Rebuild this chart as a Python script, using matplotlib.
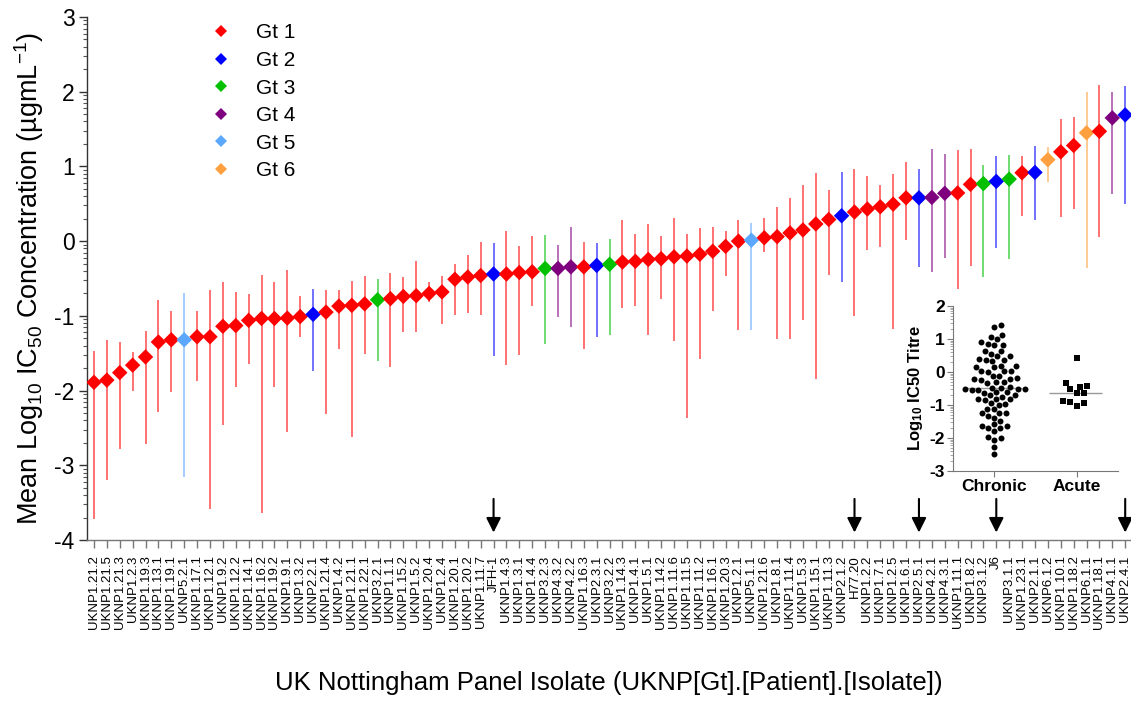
import numpy as np
import matplotlib
matplotlib.use("Agg")
import matplotlib.pyplot as plt
from matplotlib.lines import Line2D
from matplotlib.ticker import FixedLocator

plt.rcParams['font.family'] = ['Liberation Sans', 'DejaVu Sans']
plt.rcParams['mathtext.fontset'] = 'custom'
plt.rcParams['mathtext.rm'] = 'Liberation Sans'
plt.rcParams['mathtext.it'] = 'Liberation Sans:italic'
plt.rcParams['mathtext.bf'] = 'Liberation Sans:bold'

# ---------------- data ----------------
isolates = [
    "UKNP1.21.2", "UKNP1.21.5", "UKNP1.21.3", "UKNP1.2.3", "UKNP1.19.3", "UKNP1.13.1",
    "UKNP1.19.1", "UKNP5.2.1", "UKNP1.17.1", "UKNP1.12.1", "UKNP1.9.2", "UKNP1.12.2",
    "UKNP1.14.1", "UKNP1.16.2", "UKNP1.19.2", "UKNP1.9.1", "UKNP1.3.2", "UKNP2.2.1",
    "UKNP1.21.4", "UKNP1.4.2", "UKNP1.21.1", "UKNP1.22.1", "UKNP3.2.1", "UKNP1.1.1",
    "UKNP1.15.2", "UKNP1.5.2", "UKNP1.20.4", "UKNP1.2.4", "UKNP1.20.1", "UKNP1.20.2",
    "UKNP1.11.7", "JFH-1", "UKNP1.4.3", "UKNP1.3.1", "UKNP1.4.4", "UKNP3.2.3",
    "UKNP4.3.2", "UKNP4.2.2", "UKNP1.16.3", "UKNP2.3.1", "UKNP3.2.2", "UKNP1.14.3",
    "UKNP1.4.1", "UKNP1.5.1", "UKNP1.14.2", "UKNP1.11.6", "UKNP1.11.5", "UKNP1.11.2",
    "UKNP1.16.1", "UKNP1.20.3", "UKNP1.2.1", "UKNP5.1.1", "UKNP1.21.6", "UKNP1.8.1",
    "UKNP1.11.4", "UKNP1.5.3", "UKNP1.15.1", "UKNP1.11.3", "UKNP2.1.2", "H77.20",
    "UKNP1.2.2", "UKNP1.7.1", "UKNP1.2.5", "UKNP1.6.1", "UKNP2.5.1", "UKNP4.2.1",
    "UKNP4.3.1", "UKNP1.11.1", "UKNP1.8.2", "UKNP3.1.2", "J6", "UKNP3.1.1",
    "UKNP1.23.1", "UKNP2.1.1", "UKNP6.1.2", "UKNP1.10.1", "UKNP1.18.2", "UKNP6.1.1",
    "UKNP1.18.1", "UKNP4.1.1", "UKNP2.4.1",
]
genotype = [
    1, 1, 1, 1, 1, 1, 1, 5, 1, 1, 1, 1, 1, 1, 1, 1, 1, 2, 1, 1, 1, 1, 3, 1, 1, 1, 1,
    1, 1, 1, 1, 2, 1, 1, 1, 3, 4, 4, 1, 2, 3, 1, 1, 1, 1, 1, 1, 1, 1, 1, 1, 5, 1, 1,
    1, 1, 1, 1, 2, 1, 1, 1, 1, 1, 2, 4, 4, 1, 1, 3, 2, 3, 1, 2, 6, 1, 1, 6, 1, 4, 2,
]
mean_log_ic50 = [
    -1.89, -1.86, -1.76, -1.66, -1.55, -1.35, -1.32, -1.32, -1.28, -1.28, -1.14, -1.13,
    -1.06, -1.035, -1.035, -1.03, -1.01, -0.98, -0.95, -0.87, -0.86, -0.84, -0.785, -0.77,
    -0.74, -0.73, -0.70, -0.68, -0.51, -0.48, -0.46, -0.44, -0.44, -0.42, -0.41, -0.365,
    -0.365, -0.345, -0.345, -0.325, -0.31, -0.28, -0.27, -0.245, -0.235, -0.21, -0.20, -0.175,
    -0.135, -0.07, 0.0, 0.013, 0.045, 0.06, 0.11, 0.15, 0.23, 0.29, 0.34, 0.39,
    0.43, 0.46, 0.495, 0.58, 0.58, 0.585, 0.64, 0.645, 0.76, 0.77, 0.80, 0.83,
    0.915, 0.92, 1.09, 1.195, 1.28, 1.45, 1.47, 1.65, 1.69,
]
range_high = [
    -1.47, -1.325, -1.35, -1.49, -1.20, -0.79, -0.94, -0.69, -0.93, -0.65, -0.55, -0.68,
    -0.71, -0.45, -0.545, -0.39, -0.73, -0.64, -0.65, -0.66, -0.53, -0.47, -0.51, -0.43,
    -0.48, -0.27, -0.55, -0.47, -0.31, -0.19, -0.01, -0.02, 0.13, -0.06, 0.07, 0.085,
    -0.045, 0.19, -0.015, -0.03, 0.03, 0.285, 0.10, 0.235, 0.07, 0.31, 0.09, 0.175,
    0.19, 0.13, 0.285, 0.24, 0.31, 0.46, 0.58, 0.75, 0.91, 0.69, 0.92, 0.96,
    0.87, 0.75, 0.90, 1.06, 0.96, 1.23, 1.165, 1.22, 1.23, 1.02, 1.14, 1.15,
    1.14, 1.28, 1.26, 1.63, 1.655, 1.995, 2.09, 1.995, 2.075,
]
range_low = [
    -3.72, -3.20, -2.78, -2.01, -2.71, -2.29, -2.02, -3.16, -1.87, -3.58, -2.46, -1.95,
    -1.65, -3.64, -1.95, -2.55, -1.28, -1.74, -2.31, -1.45, -2.62, -1.51, -1.61, -1.69,
    -1.22, -1.22, -0.82, -1.11, -0.99, -0.96, -0.99, -1.54, -1.66, -1.53, -0.87, -1.37,
    -1.01, -1.15, -1.44, -1.28, -1.25, -0.90, -0.87, -1.26, -0.78, -1.33, -2.37, -1.58,
    -0.93, -0.47, -1.19, -1.19, -0.15, -1.31, -1.31, -1.05, -1.85, -0.45, -0.55, -1.00,
    -0.12, -0.08, -1.18, 0.01, -0.35, -0.415, -0.22, -0.64, -0.33, -0.48, -0.09, -0.24,
    0.33, 0.28, 0.785, 0.325, 0.43, -0.36, 0.06, 0.63, 0.50,
]
reference_arrows = ["JFH-1", "H77.20", "UKNP2.5.1", "J6", "UKNP2.4.1"]

gt_labels = ["Gt 1", "Gt 2", "Gt 3", "Gt 4", "Gt 5", "Gt 6"]
gt_colors = ["#FF0000", "#0000FF", "#00C000", "#7F007F", "#5CA8FF", "#FFA040"]

chronic_titre = [
    1.43, 1.36, 1.12, 1.06, 0.99, 0.90, 0.84, 0.81, 0.82, 0.64, 0.63, 0.56, 0.47, 0.47,
    0.37, 0.33, 0.35, 0.38, 0.15, 0.17, 0.19, 0.14, 0.03, 0.02, 0.02, 0.01, -0.12, -0.13,
    -0.22, -0.20, -0.25, -0.18, -0.33, -0.31, -0.30, -0.47, -0.47, -0.45, -0.54, -0.54,
    -0.53, -0.53, -0.53, -0.62, -0.63, -0.62, -0.70, -0.71, -0.77, -0.83, -0.82, -0.83,
    -0.86, -0.95, -0.98, -1.00, -1.13, -1.23, -1.24, -1.12, -1.25, -1.39, -1.33, -1.49,
    -1.59, -1.65, -1.69, -1.65, -1.69, -1.79, -2.01, -2.05, -1.97, -2.27, -2.47,
]
acute_titre = [0.41, -0.41, -0.34, -0.44, -0.53, -0.65, -0.63, -0.92, -0.89, -0.93, -1.04]
inset_categories = ["Chronic", "Acute"]

# ---------------- figure ----------------
W, H = 1131, 701
fig = plt.figure(figsize=(W / 100, H / 100), dpi=100)
ax = fig.add_axes([87 / W, 1 - 540 / H, (W - 87) / W, (540 - 17) / H])

n = len(isolates)
x = np.arange(n)
cols = [gt_colors[g - 1] for g in genotype]

ax.vlines(x, range_low, range_high, colors=cols, lw=1.3, alpha=0.6, zorder=2)
ax.scatter(x, mean_log_ic50, c=cols, marker='D', s=62, zorder=3, linewidths=0)

ax.set_xlim(-0.54, n - 1 + 0.45)
ax.set_ylim(-4, 3)
ax.set_xticks(x)
ax.set_xticklabels(isolates, rotation=90, fontsize=9.5, va='top', ha='center')
ax.set_yticks(range(-4, 4))
ax.set_yticklabels([str(v) for v in range(-4, 4)], fontsize=16.5)
minor = [d + np.log10(k) for d in range(-4, 3) for k in range(2, 10)]
ax.yaxis.set_minor_locator(FixedLocator(minor))

for s in ['top', 'right']:
    ax.spines[s].set_visible(False)
ax.spines['left'].set_color('#333333')
ax.spines['bottom'].set_color('#777777')
ax.spines['left'].set_linewidth(1.0)
ax.spines['bottom'].set_linewidth(1.0)
ax.tick_params(axis='y', which='major', length=6, width=1.0, color='#333333', pad=3)
ax.tick_params(axis='y', which='minor', length=3, width=0.8, color='#555555')
ax.tick_params(axis='x', which='major', length=6, width=1.0, color='#777777', pad=5)

ax.set_ylabel('Mean Log$_{10}$ IC$_{50}$ Concentration (µgmL$^{-1}$)', fontsize=19.5, labelpad=6)
ax.set_xlabel('UK Nottingham Panel Isolate (UKNP[Gt].[Patient].[Isolate])', fontsize=18.5, labelpad=30)

for name in reference_arrows:
    i = isolates.index(name)
    ax.annotate('', xy=(i, -3.9), xytext=(i, -3.45),
                arrowprops=dict(arrowstyle='-|>', color='black', lw=1.5, mutation_scale=22,
                                shrinkA=0, shrinkB=0), zorder=4)

handles = [Line2D([], [], marker='D', color=c, ls='none', markersize=6.5, markeredgewidth=0)
           for c in gt_colors]
leg = ax.legend(handles, gt_labels, loc='upper left', bbox_to_anchor=(200 / W, 1 - 13 / H),
                bbox_transform=fig.transFigure, frameon=False, fontsize=15,
                handlelength=1.0, handletextpad=1.2, labelspacing=0.41, borderpad=0)

# ---------------- inset ----------------
ia = fig.add_axes([953 / W, 1 - 471 / H, 165 / W, 165 / H])
ia.set_facecolor('none')
ia.set_xlim(-0.5, 1.5)
ia.set_ylim(-3, 2)


def swarm(vals, center, px_x, px_y, d):
    order = np.argsort(vals)
    placed = []
    xs = np.zeros(len(vals))
    for idx in order:
        yv = vals[idx] * px_y
        found = None
        k = 0
        while found is None:
            for sgn in ([0] if k == 0 else [1, -1]):
                off = sgn * k * 0.5
                if all((off - a) ** 2 + (yv - b) ** 2 >= d * d for a, b in placed):
                    found = off
                    break
            k += 1
        placed.append((found, yv))
        xs[idx] = center + found / px_x
    return xs


px_x = 165 / 2.0
px_y = 165 / 5.0
cx = swarm(np.array(chronic_titre), 0, px_x, px_y, 6.5)
axx = swarm(np.array(acute_titre), 1, px_x, px_y, 7.5)
ia.plot(cx, chronic_titre, 'o', color='black', markersize=4.3, markeredgewidth=0, zorder=3)
ia.plot(axx, acute_titre, 's', color='black', markersize=4.3, markeredgewidth=0, zorder=3)
ia.hlines(np.median(chronic_titre), -0.33, 0.34, color='#999999', lw=1.0, zorder=2)
ia.hlines(np.median(acute_titre), 0.66, 1.31, color='#999999', lw=1.0, zorder=2)

ia.set_xticks([0, 1])
ia.set_xticklabels(inset_categories, fontsize=12.5, fontweight='bold')
ia.set_yticks(range(-3, 3))
ia.set_yticklabels([str(v) for v in range(-3, 3)], fontsize=12.5, fontweight='bold')
ia.yaxis.set_minor_locator(FixedLocator([d + np.log10(k) for d in range(-3, 2) for k in range(2, 10)]))
for s in ['top', 'right']:
    ia.spines[s].set_visible(False)
ia.spines['left'].set_color('#777777')
ia.spines['bottom'].set_color('#777777')
ia.tick_params(axis='both', which='major', length=4, color='#777777', pad=2)
ia.tick_params(axis='y', which='minor', length=2, color='#999999')
ia.set_ylabel('Log$_{\\mathbf{10}}$ IC50 Titre', fontsize=12, fontweight='bold', labelpad=3)

fig.savefig('out.png', dpi=100)
